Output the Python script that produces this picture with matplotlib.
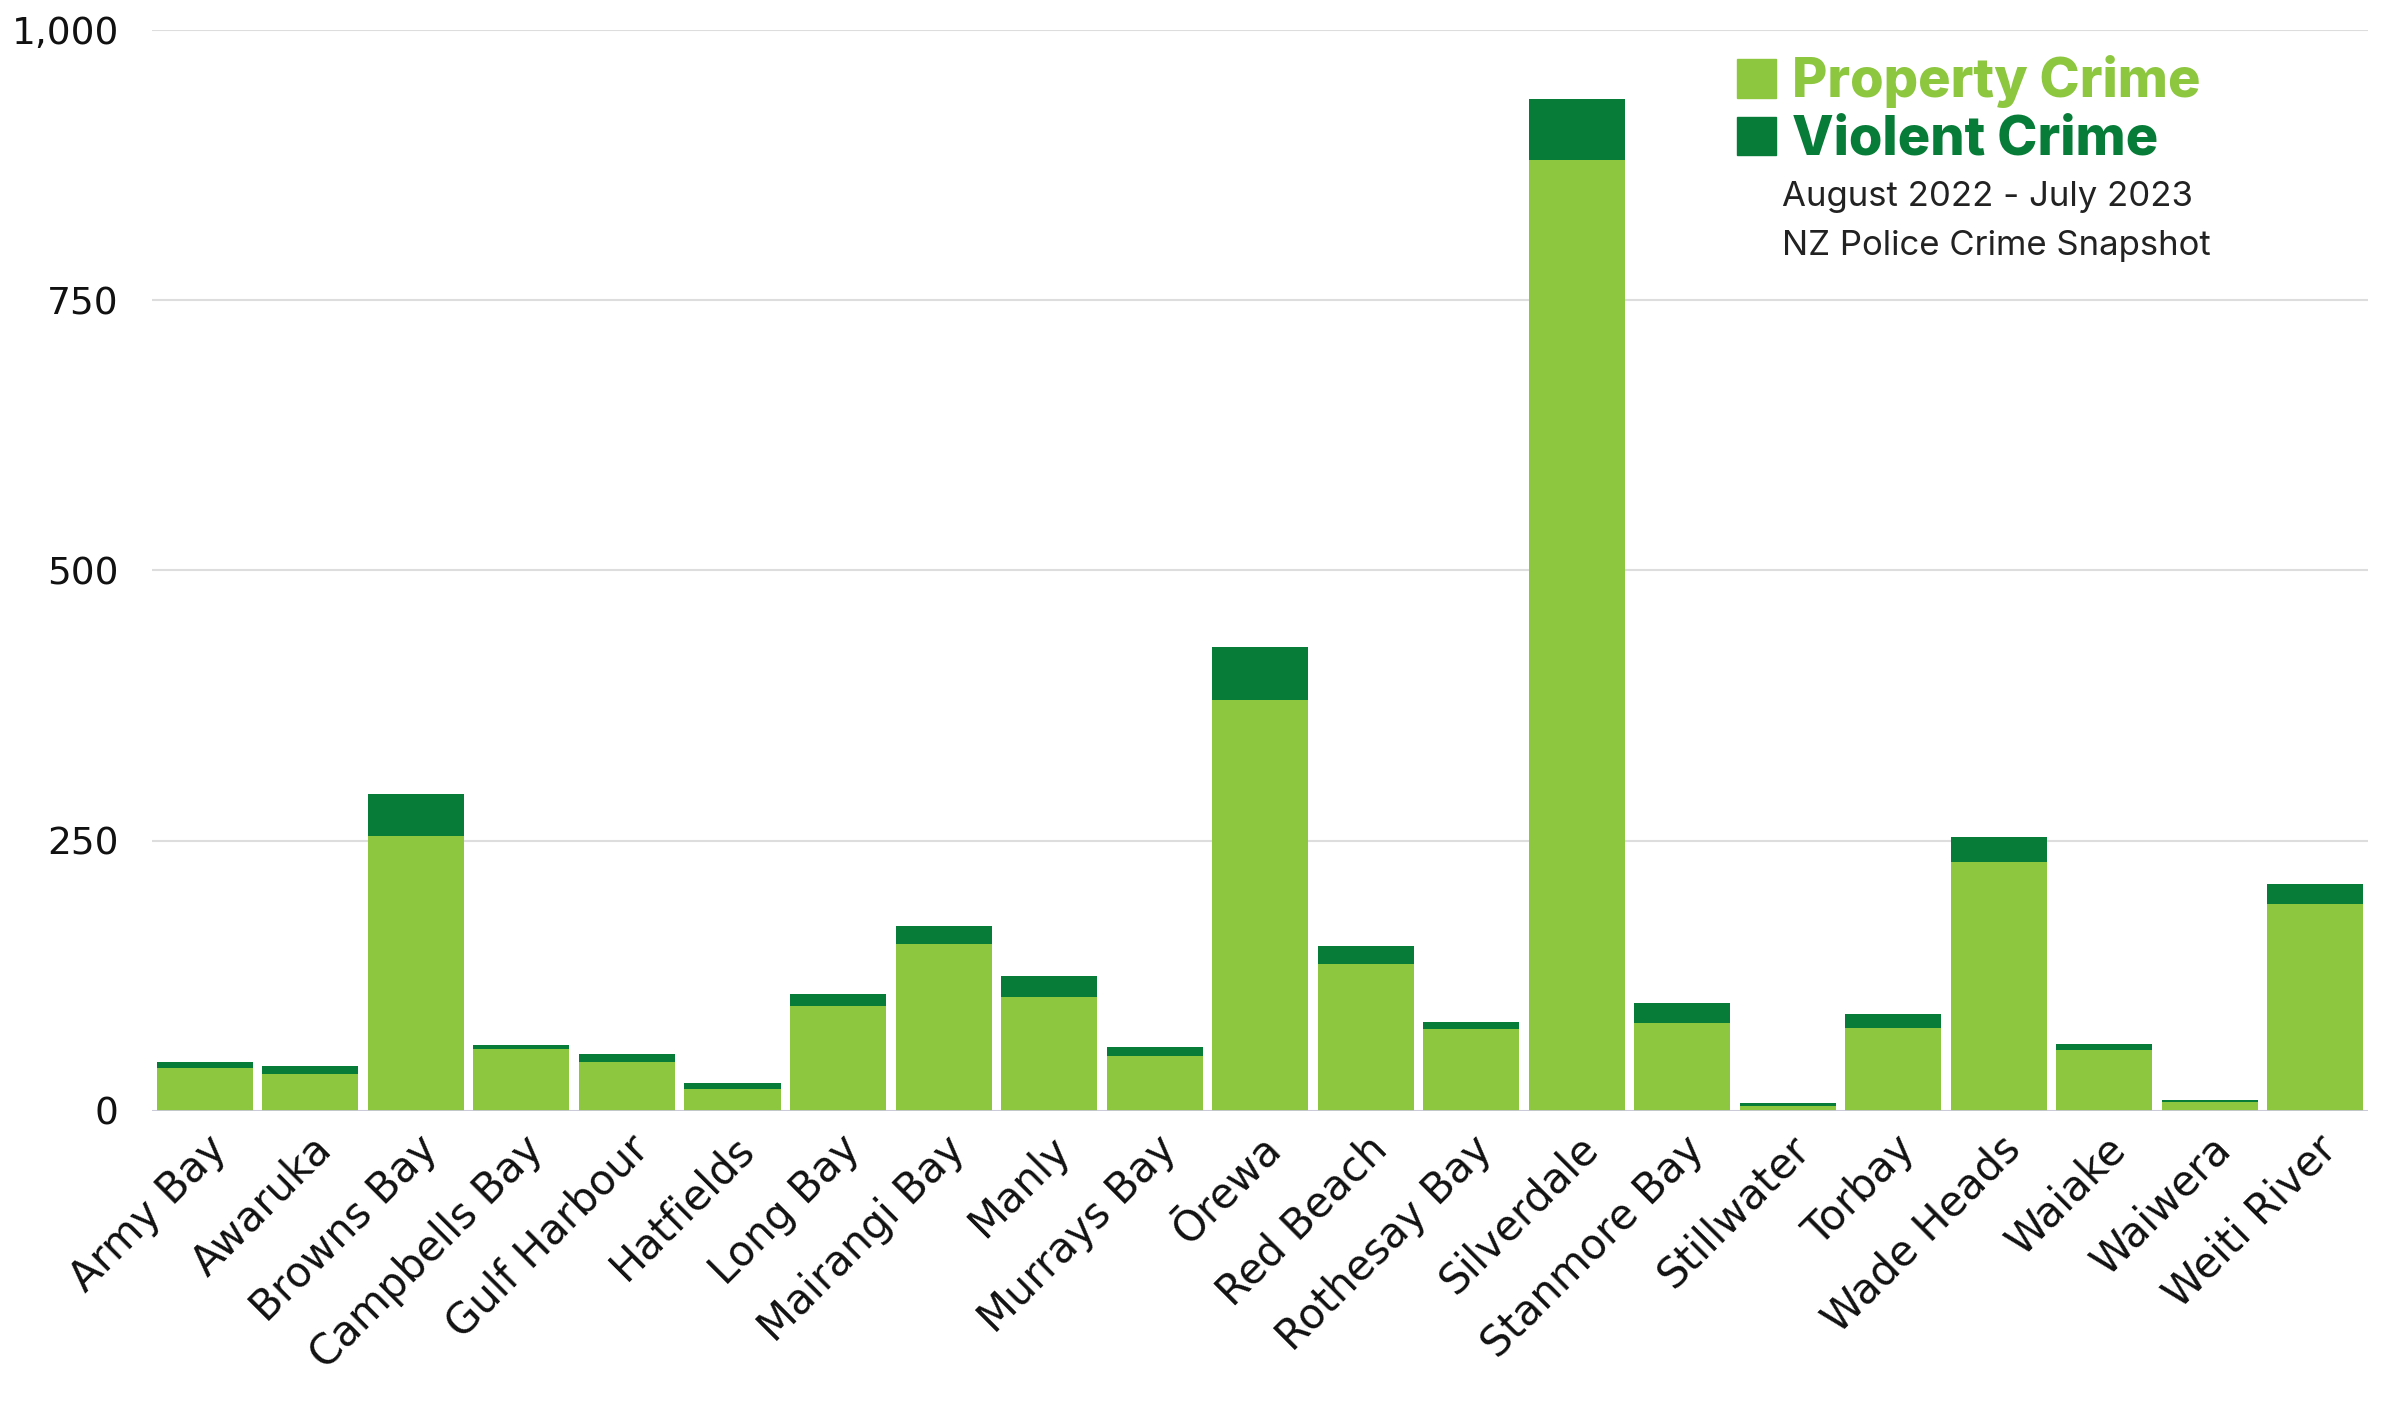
import matplotlib.pyplot as plt
from matplotlib.patches import Patch
from matplotlib.ticker import FuncFormatter

suburbs = ["Army Bay", "Awaruka", "Browns Bay", "Campbells Bay", "Gulf Harbour",
           "Hatfields", "Long Bay", "Mairangi Bay", "Manly", "Murrays Bay",
           "Ōrewa", "Red Beach", "Rothesay Bay", "Silverdale", "Stanmore Bay",
           "Stillwater", "Torbay", "Wade Heads", "Waiake", "Waiwera", "Weiti River"]
property_crime = [40, 34, 254, 57, 45, 20, 97, 154, 105, 51,
                  380, 136, 76, 880, 81, 5, 77, 230, 56, 8, 191]
violent_crime = [5, 8, 39, 4, 8, 6, 11, 17, 20, 8,
                 49, 17, 6, 56, 19, 2, 13, 23, 6, 2, 19]
yticks = [0, 250, 500, 750, 1000]

light = "#8DC63F"
dark = "#077C38"
tick_font = "DejaVu Sans"
font = "Inter"

fig = plt.figure(figsize=(23.92, 14.08), dpi=100)
ax = fig.add_axes([0.0636, 0.211, 0.9264, 0.7677])

x = range(len(suburbs))
ax.bar(x, property_crime, width=0.91, color=light, zorder=3)
ax.bar(x, violent_crime, width=0.91, bottom=property_crime, color=dark, zorder=3)

ax.set_xlim(-0.5, len(suburbs) - 0.5)
ax.set_ylim(0, 1000)
ax.set_yticks(yticks)
ax.yaxis.set_major_formatter(FuncFormatter(lambda v, p: f"{int(v):,}"))
ax.grid(axis="y", color="#dddddd", linewidth=1.5, zorder=0)
ax.axhline(0, color="#c8c8d8", linewidth=2, zorder=4)

for s in ax.spines.values():
    s.set_visible(False)
ax.tick_params(axis="both", length=0, colors="#111111")
ax.tick_params(axis="y", pad=24, labelsize=27)
ax.tick_params(axis="x", pad=12, labelsize=30)
ax.set_xticks(list(x))
ax.set_xticklabels(suburbs, rotation=45, ha="right", rotation_mode="anchor",
                   family=tick_font)
for lab in ax.get_yticklabels():
    lab.set_family(tick_font)

handles = [Patch(color=light), Patch(color=dark)]
leg = fig.legend(handles, ["Property Crime", "Violent Crime"],
                 loc="upper left", bbox_to_anchor=(0.717, 0.976), frameon=False,
                 prop={"family": font, "weight": "heavy", "size": 39},
                 handlelength=0.72, handleheight=0.72, handletextpad=0.3,
                 labelspacing=0.12, borderaxespad=0)
leg.get_texts()[0].set_color(light)
leg.get_texts()[1].set_color(dark)

fig.text(0.745, 0.860, "August 2022 - July 2023", fontsize=25, family=font,
         color="#222222", va="center")
fig.text(0.745, 0.825, "NZ Police Crime Snapshot", fontsize=25, family=font,
         color="#222222", va="center")

fig.savefig("out.png", dpi=100, facecolor="white")
